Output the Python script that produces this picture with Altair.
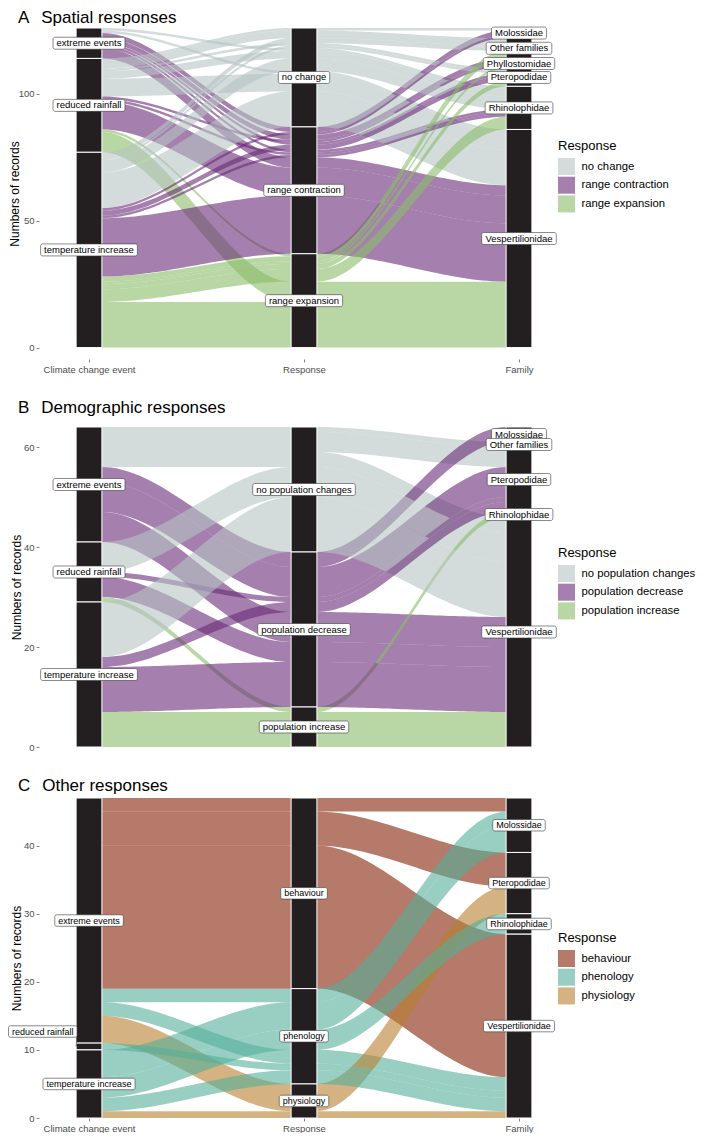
import altair as alt
import numpy as np
import pandas as pd

FONT = "Liberation Sans"
AXIS_NAMES = ["Climate change event", "Response", "Family"]

# ---------------- Panel A: spatial responses ----------------
A_events = ["extreme events", "reduced rainfall", "temperature increase"]
A_responses = ["no change", "range contraction", "range expansion"]
A_families = ["Molossidae", "Other families", "Phyllostomidae", "Pteropodidae",
              "Rhinolophidae", "Vespertilionidae"]
A_colors = ["#b6c3c3", "#692a76", "#8abc69"]
A_event = (["extreme events"] * 7 + ["reduced rainfall"] * 10
           + ["temperature increase"] * 13)
A_response = (["no change"] * 2 + ["range contraction"] * 5
              + ["no change"] * 5 + ["range contraction"] * 3 + ["range expansion"] * 2
              + ["no change"] * 4 + ["range contraction"] * 4 + ["range expansion"] * 5)
A_family = ["Rhinolophidae", "Vespertilionidae", "Molossidae", "Phyllostomidae",
            "Pteropodidae", "Rhinolophidae", "Vespertilionidae",
            "Molossidae", "Other families", "Pteropodidae", "Rhinolophidae",
            "Vespertilionidae", "Phyllostomidae", "Rhinolophidae", "Vespertilionidae",
            "Other families", "Vespertilionidae",
            "Other families", "Pteropodidae", "Rhinolophidae", "Vespertilionidae",
            "Molossidae", "Pteropodidae", "Rhinolophidae", "Vespertilionidae",
            "Other families", "Phyllostomidae", "Pteropodidae", "Rhinolophidae",
            "Vespertilionidae"]
A_count = [1, 1, 2, 2, 1, 1, 4,
           1, 3, 1, 3, 7, 1, 1, 11, 1, 8,
           2, 1, 5, 14, 1, 2, 1, 23, 2, 1, 2, 5, 18]
A_ticks = [0, 50, 100]

# ---------------- Panel B: demographic responses ----------------
B_events = ["extreme events", "reduced rainfall", "temperature increase"]
B_responses = ["no population changes", "population decrease", "population increase"]
B_families = ["Molossidae", "Other families", "Pteropodidae", "Rhinolophidae",
              "Vespertilionidae"]
B_colors = ["#b6c3c3", "#692a76", "#8abc69"]
B_event = (["extreme events"] * 6 + ["reduced rainfall"] * 4
           + ["temperature increase"] * 4)
B_response = (["no population changes"] * 3 + ["population decrease"] * 3
              + ["no population changes"] + ["population decrease"] * 2
              + ["population increase"]
              + ["no population changes"] + ["population decrease"] * 2
              + ["population increase"])
B_family = ["Other families", "Pteropodidae", "Vespertilionidae",
            "Molossidae", "Pteropodidae", "Vespertilionidae",
            "Vespertilionidae", "Pteropodidae", "Vespertilionidae", "Rhinolophidae",
            "Vespertilionidae", "Pteropodidae", "Vespertilionidae", "Vespertilionidae"]
B_count = [1, 4, 3, 3, 6, 6, 6, 1, 4, 1, 11, 2, 9, 7]
B_ticks = [0, 20, 40, 60]

# ---------------- Panel C: other responses ----------------
C_events = ["extreme events", "reduced rainfall", "temperature increase"]
C_responses = ["behaviour", "phenology", "physiology"]
C_families = ["Molossidae", "Pteropodidae", "Rhinolophidae", "Vespertilionidae"]
C_colors = ["#842107", "#53af99", "#b97f2f"]
C_event = (["extreme events"] * 6 + ["reduced rainfall"]
           + ["temperature increase"] * 4)
C_response = (["behaviour"] * 3 + ["phenology"] * 2 + ["physiology"]
              + ["phenology"]
              + ["phenology"] * 3 + ["physiology"])
C_family = ["Molossidae", "Pteropodidae", "Vespertilionidae",
            "Molossidae", "Vespertilionidae", "Pteropodidae",
            "Vespertilionidae",
            "Molossidae", "Rhinolophidae", "Vespertilionidae", "Vespertilionidae"]
C_count = [2, 5, 21, 2, 2, 4, 1, 4, 3, 2, 1]
C_ticks = [0, 10, 20, 30, 40]

# approximate Arial advance widths (per 1000 em) for label boxes
CHAR_W = {' ': 278, 'a': 556, 'b': 556, 'c': 500, 'd': 556, 'e': 556, 'f': 278,
          'g': 556, 'h': 556, 'i': 222, 'j': 222, 'k': 500, 'l': 222, 'm': 833,
          'n': 556, 'o': 556, 'p': 556, 'q': 556, 'r': 333, 's': 500, 't': 278,
          'u': 556, 'v': 500, 'w': 722, 'x': 500, 'y': 500, 'z': 500,
          'M': 833, 'O': 778, 'P': 667, 'R': 722, 'V': 667}


def text_width(s, fs):
    return sum(CHAR_W.get(c, 556) for c in s) / 1000.0 * fs


PLOT_W = 510
X_DOMAIN = [0.7674, 3.1395]
PX_PER_X = PLOT_W / (X_DOMAIN[1] - X_DOMAIN[0])
BAR_W = 0.12
LABEL_EXPR = ("datum.value == 1 ? '%s' : datum.value == 2 ? '%s' : '%s'"
              % tuple(AXIS_NAMES))


def build_panel(events, responses, families, ev, rs, fm, n, colors, ydom, height,
                yticks, title, title_offset, legend_y, show_x, label_fs, box_h,
                nudges, title_x):
    df = pd.DataFrame({"event": ev, "response": rs, "family": fm, "n": n})
    df["ei"] = df["event"].map({v: i for i, v in enumerate(events)})
    df["ri"] = df["response"].map({v: i for i, v in enumerate(responses)})
    df["fi"] = df["family"].map({v: i for i, v in enumerate(families)})
    total = int(df["n"].sum())
    levels = [events, responses, families]
    strat_col = ["event", "response", "family"]
    sort_keys = [["ei", "ri", "fi"], ["ri", "fi", "ei"], ["fi", "ri", "ei"]]
    tops = []
    for keys in sort_keys:
        d = df.sort_values(keys, kind="stable")
        top = total - d["n"].cumsum() + d["n"]
        tops.append(top.reindex(df.index))

    # ribbons (alluvia): stacked lode positions joined by smooth S-curves
    t = np.linspace(0, 1, 41)
    s = t * t * (3 - 2 * t)
    rib = []
    for idx in df.index:
        cnt = float(df.loc[idx, "n"])
        resp = df.loc[idx, "response"]
        for a in range(2):
            xa = a + 1 + BAR_W / 2
            xb = a + 2 - BAR_W / 2
            ta, tb = float(tops[a][idx]), float(tops[a + 1][idx])
            xs = xa + (xb - xa) * t
            hi = ta + (tb - ta) * s
            for x_, hi_ in zip(xs, hi):
                rib.append({"alluvium": "a%d" % idx, "response": resp,
                            "x": float(x_), "y": float(hi_ - cnt), "y2": float(hi_)})
    rib_df = pd.DataFrame(rib)

    # strata and labels
    ppu_y = height / (ydom[1] - ydom[0])
    strata, boxes, texts, conns = [], [], [], []
    for a in range(3):
        sizes = df.groupby(strat_col[a])["n"].sum()
        cum = total
        for lev in levels[a]:
            if lev not in sizes.index:
                continue
            sz = int(sizes[lev])
            strata.append({"x": a + 1 - BAR_W / 2, "x2": a + 1 + BAR_W / 2,
                           "y": cum - sz, "y2": cum})
            cx, cy = a + 1, cum - sz / 2
            hw = (text_width(lev, label_fs) + 7) / 2 / PX_PER_X
            if lev in nudges and a == 0:
                ndx, ndy = nudges[lev]
                lx, ly = cx + ndx, cy + ndy
                conns.append({"x": lx + hw, "y": ly - 0.4,
                              "x2": cx - BAR_W / 2, "y2": cy})
            else:
                lx, ly = cx, cy
            hh = box_h / 2 / ppu_y
            boxes.append({"x": lx - hw, "x2": lx + hw, "y": ly - hh, "y2": ly + hh})
            texts.append({"x": lx, "y": ly, "text": lev})
            cum -= sz
    strata_df = pd.DataFrame(strata)
    box_df = pd.DataFrame(boxes)
    text_df = pd.DataFrame(texts)

    xs_ = alt.Scale(domain=X_DOMAIN, nice=False, zero=False)
    ys_ = alt.Scale(domain=ydom, nice=False, zero=False)
    if show_x:
        xaxis = alt.Axis(values=[1, 2, 3], labelExpr=LABEL_EXPR, title=None,
                         domain=False, grid=False, tickSize=3, tickColor="#333333",
                         tickWidth=0.6, labelFontSize=9.5, labelColor="#4d4d4d",
                         labelPadding=2, labelFont=FONT)
    else:
        xaxis = None
    yaxis = alt.Axis(values=yticks, title="Numbers of records", titleFontSize=12,
                     titleFontWeight="normal", titleColor="black", titleFont=FONT,
                     labelFontSize=9.5, labelColor="#4d4d4d", labelFont=FONT,
                     domain=False, grid=False, tickSize=3, tickColor="#333333",
                     tickWidth=0.6, labelPadding=2, titleX=title_x,
                     titleBaseline="bottom")

    def X():
        return alt.X("x:Q", scale=xs_, axis=xaxis)

    def Y():
        return alt.Y("y:Q", scale=ys_, axis=yaxis, stack=False)

    legend = alt.Legend(orient="none", legendX=519, legendY=legend_y, title="Response",
                        titleFontSize=13, titleFontWeight="normal", titleColor="black",
                        titleFont=FONT, labelFont=FONT, labelFontSize=11.3,
                        labelColor="black", symbolType="square", symbolSize=289,
                        symbolStrokeWidth=0, symbolOpacity=0.6, rowPadding=1.7,
                        labelOffset=6.5, titlePadding=5, padding=0)

    ribbons = alt.Chart(rib_df).mark_area(fillOpacity=0.6).encode(
        x=X(), y=Y(), y2=alt.Y2("y2:Q"),
        color=alt.Color("response:N", scale=alt.Scale(domain=responses, range=colors),
                        legend=legend),
        detail="alluvium:N")
    bars = alt.Chart(strata_df).mark_rect(
        fill="#231f20", stroke="white", strokeWidth=1
    ).encode(x=X(), x2="x2:Q", y=Y(), y2="y2:Q")
    box_layer = alt.Chart(box_df).mark_rect(
        fill="white", stroke="#3a3a3a", strokeWidth=0.6, cornerRadius=2
    ).encode(x=X(), x2="x2:Q", y=Y(), y2="y2:Q")
    text_layer = alt.Chart(text_df).mark_text(
        font=FONT, fontSize=label_fs, color="black", align="center", baseline="middle"
    ).encode(x=X(), y=Y(), text="text:N")
    layers = [ribbons, bars]
    if conns:
        conn_layer = alt.Chart(pd.DataFrame(conns)).mark_rule(
            color="#333333", strokeWidth=0.6
        ).encode(x=X(), y=Y(), x2="x2:Q", y2="y2:Q")
        layers.append(conn_layer)
    layers += [box_layer, text_layer]
    return alt.layer(*layers).properties(
        width=PLOT_W, height=height,
        title=alt.TitleParams(text=title, anchor="start", frame="group", dx=-21,
                              fontSize=17, fontWeight="normal", color="black",
                              font=FONT, offset=title_offset))


panelA = build_panel(A_events, A_responses, A_families, A_event, A_response, A_family,
                     A_count, A_colors, [-4.5, 126], 331, A_ticks,
                     "A\u2002\u2009Spatial responses", 0, 112, True, 9.5, 12, {}, -18)
panelB = build_panel(B_events, B_responses, B_families, B_event, B_response, B_family,
                     B_count, B_colors, [0, 64], 320, B_ticks,
                     "B\u2002\u2009Demographic responses", 9.7, 120, False, 9.5, 12, {},
                     -16)
panelC = build_panel(C_events, C_responses, C_families, C_event, C_response, C_family,
                     C_count, C_colors, [0, 47], 320, C_ticks,
                     "C\u2002\u2009Other responses", 3, 134, True, 9, 11.5,
                     {"reduced rainfall": (-0.215, 2.2)}, -16)

chart = alt.vconcat(panelA, panelB, panelC, spacing=24).resolve_scale(
    color="independent", x="independent", y="independent"
).properties(
    padding=0
).configure(font=FONT).configure_view(stroke=None)

chart.save("out.html", embed_options={"renderer": "svg", "actions": False})
